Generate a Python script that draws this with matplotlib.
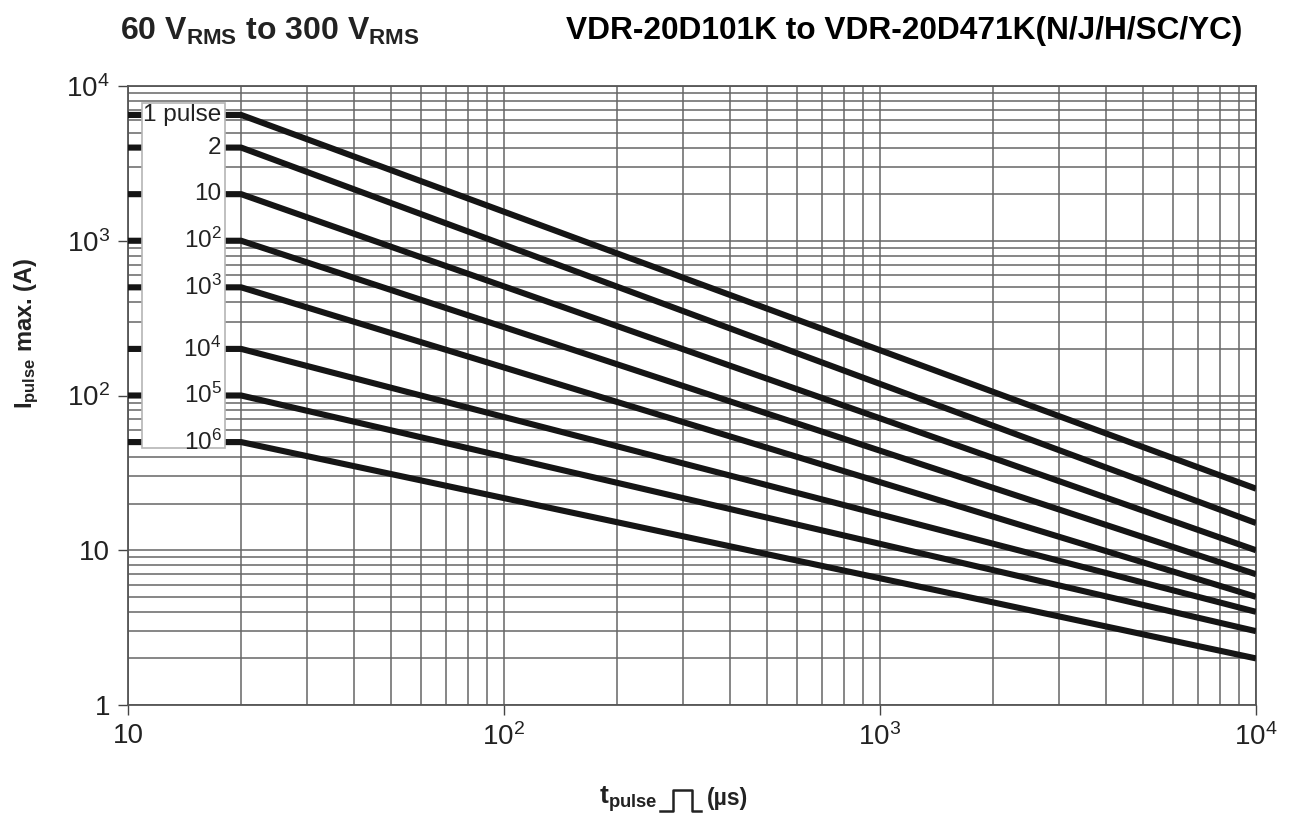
import matplotlib
matplotlib.use("Agg")
import matplotlib.pyplot as plt
from matplotlib.patches import Rectangle
from matplotlib.lines import Line2D
from matplotlib.ticker import LogLocator, FixedLocator, NullFormatter

plt.rcParams['font.family'] = ['Liberation Sans', 'DejaVu Sans']
plt.rcParams['mathtext.fontset'] = 'custom'
plt.rcParams['mathtext.rm'] = 'Liberation Sans'
plt.rcParams['mathtext.it'] = 'Liberation Sans'
plt.rcParams['mathtext.bf'] = 'Liberation Sans:bold'

# ---- data ----
pulse_labels = ["1 pulse", "2", "10", "$10^2$", "$10^3$", "$10^4$", "$10^5$", "$10^6$"]
t_knee = 20.0          # µs, where curves begin to fall
t_start = 10.0
t_end = 1e4
i_start = [6500, 4000, 2000, 1000, 500, 200, 100, 50]   # A at t <= 20 µs
i_end = [25, 15, 10, 7, 5, 4, 3, 2]                     # A at t = 10^4 µs

x_ticks = [10, 100, 1000, 10000]
x_ticklabels = ["10", "$10^2$", "$10^3$", "$10^4$"]
y_ticks = [1, 10, 100, 1000, 10000]
y_ticklabels = ["1", "10", "$10^2$", "$10^3$", "$10^4$"]

W, H = 1293, 816
fig = plt.figure(figsize=(W / 100, H / 100), dpi=100)
ax = fig.add_axes([128 / W, 1 - 705 / H, (1256 - 128) / W, (705 - 86) / H])
ax.set_xscale('log')
ax.set_yscale('log')
ax.set_xlim(10, 1e4)
ax.set_ylim(1, 1e4)

grid_col = '#666666'
ax.xaxis.set_major_locator(FixedLocator(x_ticks))
ax.yaxis.set_major_locator(FixedLocator(y_ticks))
ax.xaxis.set_minor_locator(LogLocator(base=10, subs=range(2, 10)))
ax.yaxis.set_minor_locator(LogLocator(base=10, subs=range(2, 10)))
ax.xaxis.set_minor_formatter(NullFormatter())
ax.yaxis.set_minor_formatter(NullFormatter())
ax.set_xticklabels(x_ticklabels, fontsize=20, color='#222222')
ax.set_yticklabels(y_ticklabels, fontsize=20, color='#222222')
ax.grid(True, which='both', color=grid_col, linewidth=1.1)
ax.tick_params(which='major', direction='out', length=7, width=1.0, color='#444444', pad=6)
ax.tick_params(which='minor', length=0)
for s in ax.spines.values():
    s.set_color('#555555')
    s.set_linewidth(1.3)

for s, e in zip(i_start, i_end):
    ax.plot([t_start, t_knee, t_end], [s, s, e], color='#151515', linewidth=4.4,
            solid_capstyle='butt', zorder=3)

# legend box with labels
ax.add_patch(Rectangle((10.9, 45.5), 18.1 - 10.9, 7770 - 45.5, facecolor='white',
                       edgecolor='#b5b5b5', linewidth=1.2, zorder=4))
for lab, s in zip(pulse_labels, i_start):
    ax.text(17.75, s, lab, ha='right', va='center', fontsize=17.5, color='#222222', zorder=5)

# titles
fig.text(120 / W, 1 - 31 / H, r"60 V$_{\mathbf{RMS}}$ to 300 V$_{\mathbf{RMS}}$",
         fontsize=23, fontweight='bold', ha='left', va='center', color='#222222')
fig.text(566 / W, 1 - 31 / H, "VDR-20D101K to VDR-20D471K(N/J/H/SC/YC)",
         fontsize=22.8, fontweight='bold', ha='left', va='center', color='black')

# y label
fig.text(27 / W, 1 - 333 / H, r"I$_{\mathbf{pulse}}$ max. (A)", rotation=90,
         fontsize=17, fontweight='bold', ha='center', va='center', color='#222222')

# x label with pulse symbol
fig.text(658 / W, 1 - 799 / H, r"t$_{\mathbf{pulse}}$", fontsize=19, fontweight='bold',
         ha='right', va='center', color='#222222')
px = [660, 673, 673, 692, 692, 701]
py = [811, 811, 790, 790, 811, 811]
fig.add_artist(Line2D([x / W for x in px], [1 - y / H for y in py], color='#222222',
                      linewidth=1.8, transform=fig.transFigure))
fig.text(707 / W, 1 - 799 / H, "(µs)", fontsize=16.5, fontweight='bold',
         ha='left', va='center', color='#222222')

fig.savefig("out.png", dpi=100)
